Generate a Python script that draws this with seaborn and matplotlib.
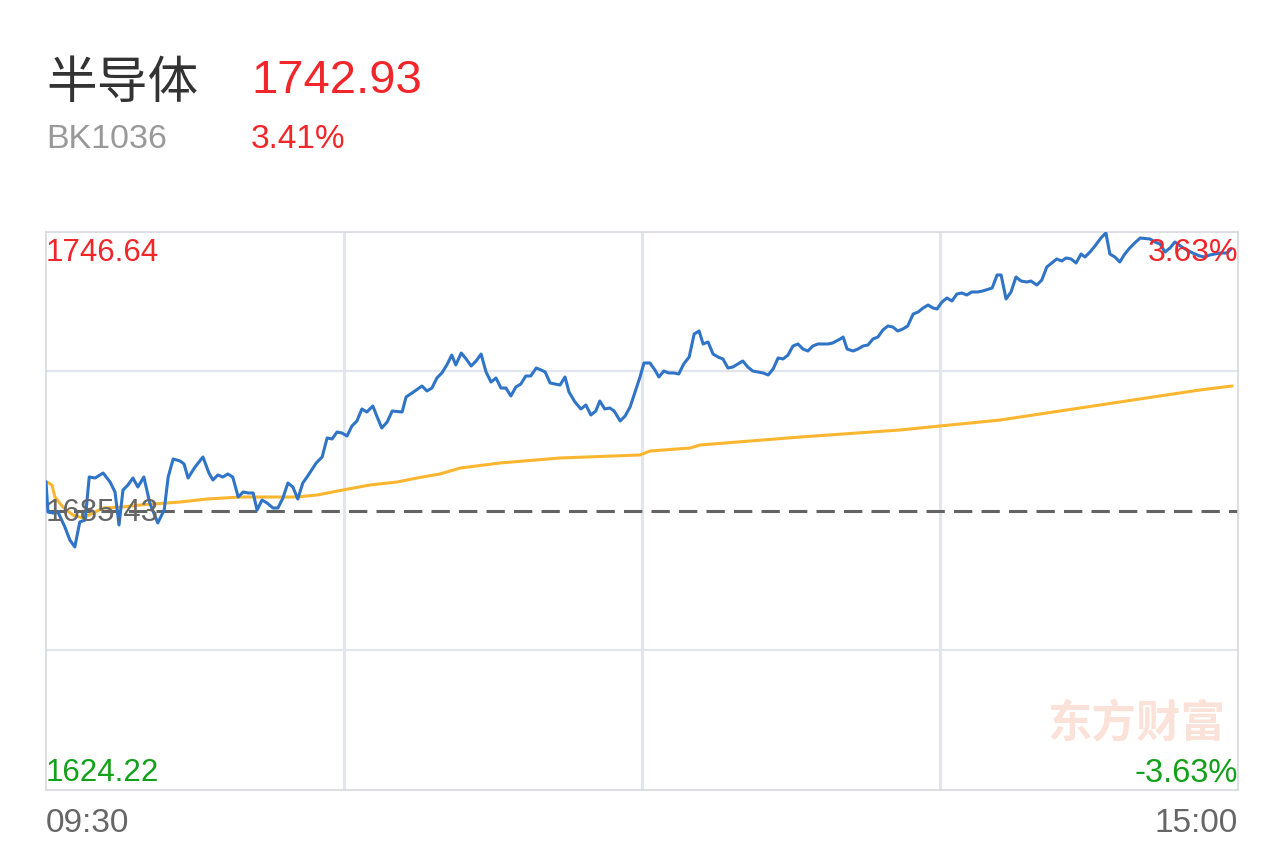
import matplotlib
matplotlib.use("Agg")
import matplotlib.pyplot as plt
import seaborn as sns
import pandas as pd

# ---------------- data ----------------
name = "半导体"
code = "BK1036"
last_price = "1742.93"
last_pct = "3.41%"
prev_close = 1685.43
y_top = 1746.64
y_bottom = 1624.22
top_pct = "3.63%"
bottom_pct = "-3.63%"
time_labels = ["09:30", "15:00"]
watermark = "东方财富"

# minutes since open (lunch break collapsed, 0..240)
price_minute = [0.0, 0.4, 1.4, 2.4, 3.8, 4.8, 5.8, 6.8, 7.9, 8.7, 9.9, 11.5, 12.9, 13.9, 14.7, 15.5, 16.5, 17.5,
                18.5, 19.7, 20.9, 22.5, 23.8, 24.6, 25.6, 27.0, 27.8, 28.6, 30.0, 31.6, 32.8, 33.6, 34.6, 35.6,
                36.6, 37.6, 38.7, 39.7, 40.7, 41.7, 42.5, 43.5, 44.5, 45.7, 46.7, 47.7, 48.7, 49.7, 50.7, 51.7,
                52.7, 54.4, 55.6, 56.6, 57.6, 58.6, 59.6, 60.6, 61.6, 62.6, 63.6, 64.6, 65.8, 66.6, 67.6, 68.7,
                69.7, 71.7, 72.5, 73.7, 75.7, 76.7, 77.7, 78.7, 79.7, 80.7, 81.7, 82.5, 83.6, 84.6, 85.6, 86.6,
                87.6, 88.6, 89.6, 90.6, 91.6, 92.6, 93.6, 94.6, 95.6, 96.6, 97.6, 98.7, 99.7, 100.5, 101.5,
                103.5, 104.5, 105.3, 106.5, 107.7, 108.7, 109.7, 110.7, 111.5, 112.5, 113.5, 114.4, 115.6,
                116.6, 117.6, 118.6, 119.6, 120.4, 121.6, 122.6, 123.4, 124.4, 125.4, 126.4, 127.4, 128.4,
                129.5, 130.5, 131.5, 132.3, 133.3, 134.3, 135.3, 136.3, 137.3, 138.3, 139.3, 140.3, 141.3,
                142.3, 143.3, 144.4, 145.4, 146.4, 147.4, 148.4, 149.4, 150.4, 151.4, 152.4, 153.4, 154.4,
                155.4, 157.4, 158.4, 159.9, 160.5, 161.3, 162.5, 163.5, 164.5, 165.5, 166.5, 167.5, 168.5,
                169.5, 170.5, 171.5, 172.5, 173.5, 174.6, 175.6, 176.6, 177.6, 178.6, 179.4, 180.4, 181.4,
                182.4, 183.4, 184.4, 185.4, 186.4, 187.6, 188.6, 190.5, 191.5, 192.3, 193.3, 194.3, 195.3,
                196.3, 197.5, 198.3, 199.5, 200.5, 201.5, 202.5, 203.5, 204.5, 205.4, 206.4, 207.4, 208.4,
                209.2, 210.2, 211.2, 212.4, 213.4, 214.2, 215.2, 216.2, 217.2, 218.2, 219.2, 220.3, 222.3,
                223.3, 224.3, 225.3, 226.3, 227.3, 228.7, 229.7, 230.9, 232.3, 233.3, 234.3, 235.4, 236.4,
                237.8, 238.6]
price = [1691.86, 1685.21, 1684.99, 1685.21, 1681.92, 1679.07, 1677.53, 1683.02, 1683.46, 1692.89, 1692.67,
         1693.77, 1691.79, 1689.60, 1682.36, 1690.04, 1691.13, 1692.67, 1690.70, 1692.89, 1687.19, 1682.80,
         1685.65, 1692.89, 1696.84, 1696.40, 1695.74, 1692.67, 1695.08, 1697.28, 1693.77, 1692.23, 1693.33,
         1692.89, 1693.55, 1692.89, 1688.50, 1689.60, 1689.38, 1689.38, 1685.65, 1687.84, 1687.19, 1686.09,
         1686.09, 1688.28, 1691.57, 1690.70, 1688.06, 1691.57, 1693.11, 1695.96, 1697.28, 1701.45, 1701.23,
         1702.76, 1702.54, 1701.88, 1704.08, 1705.18, 1707.81, 1707.15, 1708.47, 1706.27, 1703.64, 1704.96,
         1707.37, 1707.15, 1710.44, 1711.32, 1712.85, 1711.76, 1712.41, 1714.61, 1715.71, 1717.46, 1719.65,
         1717.46, 1720.09, 1718.78, 1717.24, 1718.34, 1719.87, 1715.93, 1713.73, 1714.61, 1712.41, 1712.41,
         1710.66, 1712.63, 1713.29, 1715.05, 1715.05, 1716.80, 1716.36, 1715.93, 1713.51, 1713.07, 1714.83,
         1711.54, 1709.34, 1707.81, 1708.69, 1706.49, 1707.37, 1709.56, 1707.81, 1708.03, 1707.37, 1705.18,
         1706.27, 1708.25, 1711.54, 1714.83, 1717.90, 1717.90, 1716.36, 1714.83, 1716.14, 1715.71, 1715.71,
         1715.49, 1717.68, 1719.22, 1724.26, 1724.92, 1722.07, 1722.51, 1719.87, 1719.22, 1718.78, 1716.80,
         1717.02, 1717.68, 1718.34, 1717.02, 1716.14, 1715.93, 1715.71, 1715.27, 1716.58, 1719.00, 1718.78,
         1719.65, 1721.63, 1722.07, 1720.97, 1720.53, 1721.63, 1722.07, 1722.07, 1722.29, 1723.17, 1723.60,
         1720.97, 1720.53, 1720.97, 1721.63, 1721.85, 1723.17, 1723.60, 1725.14, 1726.02, 1725.80, 1724.92,
         1725.36, 1726.02, 1728.65, 1729.09, 1729.97, 1730.62, 1729.97, 1729.75, 1731.28, 1732.16, 1731.50,
         1733.04, 1733.26, 1732.82, 1733.48, 1733.48, 1733.70, 1734.35, 1737.21, 1737.21, 1731.94, 1733.48,
         1736.77, 1735.89, 1735.67, 1735.89, 1735.01, 1736.11, 1738.96, 1739.84, 1740.72, 1740.28, 1740.94,
         1740.72, 1739.84, 1741.81, 1741.16, 1742.25, 1743.57, 1745.32, 1746.42, 1741.81, 1741.16, 1740.06,
         1741.81, 1743.13, 1744.23, 1745.32, 1745.10, 1744.45, 1744.01, 1742.25, 1743.13, 1744.45, 1743.35,
         1742.69, 1742.03, 1741.37, 1741.16, 1741.59, 1741.81, 1742.03, 1742.03, 1742.93]

avg_minute = [0.2, 1.2, 1.8, 3.4, 5.4, 7.4, 9.5, 11.5, 15.5, 18.9, 24.4, 27.0, 32.4, 39.1, 43.7, 50.5, 54.6,
              59.8, 65.2, 70.7, 74.7, 79.3, 83.4, 91.4, 103.5, 119.6, 121.6, 129.7, 131.7, 151.8, 171.9,
              192.1, 212.2, 232.3, 238.8]
avg_price = [1691.79, 1691.13, 1688.50, 1686.31, 1684.55, 1683.89, 1684.99, 1686.09, 1686.31, 1686.75,
             1687.19, 1687.40, 1688.06, 1688.50, 1688.50, 1688.50, 1688.94, 1690.04, 1691.13, 1691.79,
             1692.67, 1693.55, 1694.86, 1695.96, 1697.06, 1697.72, 1698.59, 1699.25, 1699.91, 1701.66,
             1703.20, 1705.39, 1708.69, 1711.98, 1712.85]

# ---------------- style ----------------
sns.set_style("white")
plt.rcParams['font.family'] = ['Liberation Sans', 'Noto Sans CJK SC', 'DejaVu Sans']

W, H = 1284, 843
fig = plt.figure(figsize=(W / 100, H / 100), dpi=100)
L, R, T, B = 46, 1238, 232, 790
ax = fig.add_axes([L / W, 1 - B / H, (R - L) / W, (B - T) / H])

RED = "#f0262a"
GREEN = "#13a01b"
GRAY_T = "#666666"
BLUE = "#2f74c6"
YELLOW = "#fbb630"
GRID = "#e2e5ec"

# grid
for gx in [60, 120, 180]:
    ax.axvline(gx, color=GRID, lw=2.2, zorder=0)
q = (y_top - prev_close) / 2
for gy in [prev_close + q, prev_close - q]:
    ax.axhline(gy, color=GRID, lw=1.6, zorder=0)
ax.axhline(prev_close, color="#636363", lw=2.2, dashes=(6, 3.0), zorder=1)

df_p = pd.DataFrame({"minute": price_minute, "price": price})
df_a = pd.DataFrame({"minute": avg_minute, "price": avg_price})
sns.lineplot(data=df_a, x="minute", y="price", ax=ax, color=YELLOW, lw=2.2, zorder=2)
sns.lineplot(data=df_p, x="minute", y="price", ax=ax, color=BLUE, lw=2.2, zorder=3)

ax.set_xlim(0, 240)
ax.set_ylim(y_bottom, y_top)
ax.set_xticks([])
ax.set_yticks([])
ax.set_xlabel("")
ax.set_ylabel("")
for s in ax.spines.values():
    s.set_color("#d5d8de")
    s.set_linewidth(1.2)

def px(x, y):
    return x / W, 1 - y / H

# header
fig.text(*px(46, 84), name, fontsize=36.5, color="#333333", va="center", ha="left",
         family=['Noto Sans CJK SC', 'DejaVu Sans'])
fig.text(*px(251, 81), last_price, fontsize=34, color=RED, va="center", ha="left")
fig.text(*px(46, 139), code, fontsize=24.5, color="#999999", va="center", ha="left")
fig.text(*px(251, 139), last_pct, fontsize=24, color=RED, va="center", ha="left")

# axis labels
fig.text(*px(46, 253), f"{y_top:.2f}", fontsize=22.5, color=RED, va="center", ha="left", zorder=5)
fig.text(*px(1238, 253), top_pct, fontsize=23, color=RED, va="center", ha="right", zorder=5)
fig.text(*px(46, 513), f"{prev_close:.2f}", fontsize=22.5, color=GRAY_T, va="center", ha="left", zorder=5)
fig.text(*px(46, 773), f"{y_bottom:.2f}", fontsize=22.5, color=GREEN, va="center", ha="left", zorder=5)
fig.text(*px(1238, 773), bottom_pct, fontsize=23.5, color=GREEN, va="center", ha="right", zorder=5)
fig.text(*px(46, 823), time_labels[0], fontsize=24, color=GRAY_T, va="center", ha="left")
fig.text(*px(1238, 823), time_labels[1], fontsize=24, color=GRAY_T, va="center", ha="right")

# watermark
fig.text(*px(1225, 724), watermark, fontsize=32, color="#fbe2d8", fontweight="bold",
         va="center", ha="right", family=['Noto Sans CJK SC', 'DejaVu Sans'], zorder=0)

fig.savefig("out.png", dpi=100)
